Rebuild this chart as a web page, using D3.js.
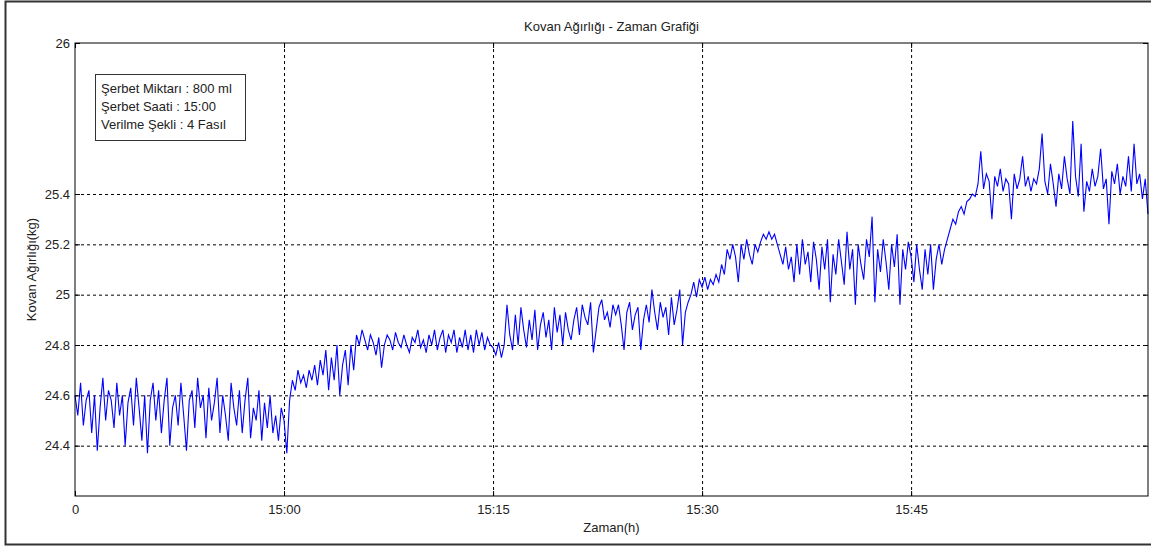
<!DOCTYPE html>
<html>
<head>
    <meta charset="utf-8">
    <style>
        body { margin: 0; background: #fff; }
        text { font-family: Arial, "Liberation Sans", sans-serif; fill: #222; }
        .axis text { font-size: 13px; }
        .axis path { display: none; }
        .axis line { stroke: #000; }
        .grid line { stroke: #000; stroke-dasharray: 3,3; }
        .grid path { display: none; }
    </style>
    <script src="https://d3js.org/d3.v7.min.js"></script>
</head>
<body>
    <svg width="1151" height="547"></svg>
    <script>
        // minutes from 14:45, one reading every 0.2 min
        var step = 0.2;
        var segStart = [0, 15, 30, 45, 60];

        var seg1 = [24.60, 24.52, 24.65, 24.48, 24.58, 24.62, 24.45, 24.60, 24.38, 24.55,
                    24.67, 24.50, 24.62, 24.58, 24.47, 24.65, 24.52, 24.60, 24.40, 24.57,
                    24.63, 24.48, 24.67, 24.55, 24.42, 24.60, 24.37, 24.58, 24.65, 24.50,
                    24.62, 24.45, 24.58, 24.67, 24.40, 24.55, 24.60, 24.48, 24.65, 24.52,
                    24.38, 24.58, 24.62, 24.47, 24.67, 24.55, 24.60, 24.43, 24.63, 24.50,
                    24.57, 24.67, 24.45, 24.60, 24.52, 24.42, 24.65, 24.55, 24.48, 24.62,
                    24.45, 24.58, 24.67, 24.43, 24.55, 24.50, 24.62, 24.42, 24.57, 24.47,
                    24.60, 24.45, 24.52, 24.42, 24.55];

        var seg2 = [24.50, 24.37, 24.58, 24.66, 24.62, 24.70, 24.65, 24.68, 24.63, 24.70,
                    24.66, 24.72, 24.64, 24.74, 24.68, 24.78, 24.62, 24.75, 24.66, 24.80,
                    24.60, 24.72, 24.78, 24.64, 24.80, 24.70, 24.84, 24.80, 24.86, 24.82,
                    24.78, 24.84, 24.81, 24.76, 24.83, 24.71, 24.80, 24.84, 24.82, 24.78,
                    24.85, 24.81, 24.79, 24.84, 24.80, 24.77, 24.83, 24.81, 24.86, 24.79,
                    24.82, 24.77, 24.84, 24.80, 24.86, 24.78, 24.83, 24.86, 24.77, 24.84,
                    24.81, 24.86, 24.77, 24.83, 24.79, 24.86, 24.78, 24.84, 24.77, 24.86,
                    24.80, 24.85, 24.78, 24.83, 24.80];

        var seg3 = [24.79, 24.76, 24.81, 24.75, 24.80, 24.96, 24.84, 24.78, 24.92, 24.80,
                    24.95, 24.86, 24.79, 24.90, 24.82, 24.94, 24.78, 24.88, 24.93, 24.83,
                    24.90, 24.78, 24.95, 24.85, 24.92, 24.80, 24.93, 24.86, 24.82, 24.90,
                    24.95, 24.84, 24.96, 24.91, 24.88, 24.97, 24.77, 24.86, 24.95, 24.98,
                    24.90, 24.93, 24.87, 24.96, 24.92, 24.96, 24.88, 24.78, 24.93, 24.97,
                    24.86, 24.92, 24.95, 24.78, 24.90, 24.96, 24.89, 25.02, 24.93, 24.86,
                    24.97, 24.91, 24.95, 24.84, 24.99, 24.88, 24.94, 25.02, 24.80, 24.93,
                    24.97, 25.00, 25.05, 24.99, 25.06];

        var seg4 = [25.03, 25.07, 25.02, 25.06, 25.04, 25.08, 25.05, 25.12, 25.08, 25.18,
                    25.14, 25.20, 25.15, 25.05, 25.20, 25.14, 25.22, 25.16, 25.12, 25.20,
                    25.17, 25.21, 25.24, 25.22, 25.25, 25.22, 25.24, 25.20, 25.16, 25.12,
                    25.19, 25.10, 25.15, 25.05, 25.20, 25.08, 25.22, 25.12, 25.17, 25.05,
                    25.21, 25.14, 25.02, 25.19, 25.10, 25.22, 24.97, 25.16, 25.08, 25.22,
                    25.13, 25.04, 25.25, 25.10, 25.18, 24.96, 25.20, 25.12, 25.06, 25.22,
                    25.15, 25.31, 24.97, 25.18, 25.09, 25.22, 25.13, 25.02, 25.20, 25.11,
                    25.24, 24.96, 25.18, 25.10, 25.21];

        var seg5 = [25.15, 25.05, 25.20, 25.10, 25.02, 25.18, 25.08, 25.20, 25.02, 25.14,
                    25.20, 25.12, 25.18, 25.22, 25.26, 25.30, 25.28, 25.33, 25.35, 25.32,
                    25.37, 25.38, 25.40, 25.39, 25.44, 25.57, 25.42, 25.48, 25.45, 25.30,
                    25.47, 25.43, 25.50, 25.41, 25.46, 25.44, 25.30, 25.48, 25.42, 25.46,
                    25.55, 25.43, 25.47, 25.41, 25.46, 25.44, 25.50, 25.64, 25.45, 25.40,
                    25.52, 25.44, 25.35, 25.48, 25.42, 25.55, 25.46, 25.40, 25.69, 25.47,
                    25.39, 25.60, 25.33, 25.45, 25.41, 25.50, 25.43, 25.47, 25.58, 25.42,
                    25.46, 25.28, 25.49, 25.44, 25.52, 25.40, 25.47, 25.43, 25.55, 25.41,
                    25.60, 25.44, 25.48, 25.38, 25.46, 25.32];

        var xTicks = [0, 15, 30, 45, 60];
        var xTickLabels = ["0", "15:00", "15:15", "15:30", "15:45"];
        var yTicks = [24.4, 24.6, 24.8, 25, 25.2, 25.4, 26];
        var noteLines = ["Şerbet Miktarı : 800 ml", "Şerbet Saati : 15:00", "Verilme Şekli : 4 Fasıl"];

        var data = [];
        [seg1, seg2, seg3, seg4, seg5].forEach(function(seg, s) {
            seg.forEach(function(v, i) {
                data.push({ t: segStart[s] + i * step, v: v });
            });
        });

        var svg = d3.select("svg");
        var padLeft = 75, padTop = 43, width = 1073, height = 453;

        // outer figure frame
        svg.append("rect")
           .attr("x", 5.5).attr("y", 1.5)
           .attr("width", 1150).attr("height", 543)
           .attr("fill", "none").attr("stroke", "#333").attr("stroke-width", 2);

        var x = d3.scaleLinear().domain([0, 77]).range([0, width]);
        var y = d3.scaleLinear().domain([24.2, 26]).range([height, 0]);

        var g = svg.append("g").attr("transform", "translate(" + padLeft + "," + padTop + ")");

        // dotted grid
        g.append("g").attr("class", "grid")
         .attr("transform", "translate(0," + height + ")")
         .call(d3.axisBottom(x).tickValues(xTicks.slice(1)).tickSize(-height).tickFormat(""));
        g.append("g").attr("class", "grid")
         .call(d3.axisLeft(y).tickValues(yTicks.slice(0, 6)).tickSize(-width).tickFormat(""));

        var line = d3.line()
                     .x(function(d) { return x(d.t); })
                     .y(function(d) { return y(d.v); });

        g.append("path")
         .datum(data)
         .attr("d", line)
         .attr("fill", "none")
         .attr("stroke", "#0000ff")
         .attr("stroke-width", 1.1);

        // axes, ticks pointing inward
        g.append("g").attr("class", "axis")
         .attr("transform", "translate(0," + height + ")")
         .call(d3.axisBottom(x).tickValues(xTicks).tickSizeInner(-5).tickSizeOuter(0).tickPadding(9)
                 .tickFormat(function(d, i) { return xTickLabels[i]; }));
        g.append("g").attr("class", "axis")
         .call(d3.axisTop(x).tickValues(xTicks).tickSizeInner(-5).tickSizeOuter(0).tickFormat(""));
        g.append("g").attr("class", "axis")
         .call(d3.axisLeft(y).tickValues(yTicks).tickSizeInner(-5).tickSizeOuter(0).tickPadding(5)
                 .tickFormat(function(d) { return String(+d.toFixed(1)); }));
        g.append("g").attr("class", "axis")
         .attr("transform", "translate(" + width + ",0)")
         .call(d3.axisRight(y).tickValues(yTicks).tickSizeInner(-5).tickSizeOuter(0).tickFormat(""));

        g.append("rect")
         .attr("width", width).attr("height", height)
         .attr("fill", "none").attr("stroke", "#000").attr("stroke-width", 1);

        // note box
        var note = g.append("g").attr("transform", "translate(20,31)");
        note.append("rect")
            .attr("x", 0.5).attr("y", 0.5).attr("width", 150).attr("height", 66)
            .attr("fill", "#fff").attr("stroke", "#333");
        note.selectAll("text").data(noteLines).enter().append("text")
            .attr("x", 6).attr("y", function(d, i) { return 19 + i * 18; })
            .style("font-size", "13px")
            .text(function(d) { return d; });

        svg.append("text")
           .attr("x", padLeft + width / 2).attr("y", 31)
           .attr("text-anchor", "middle").style("font-size", "13px")
           .text("Kovan Ağırlığı - Zaman Grafiği");

        svg.append("text")
           .attr("x", padLeft + width / 2).attr("y", 532)
           .attr("text-anchor", "middle").style("font-size", "13px")
           .text("Zaman(h)");

        svg.append("text")
           .attr("transform", "translate(36," + (padTop + height / 2) + ") rotate(-90)")
           .attr("text-anchor", "middle").style("font-size", "13px")
           .text("Kovan Ağırlığı(kg)");
    </script>
</body>
</html>
